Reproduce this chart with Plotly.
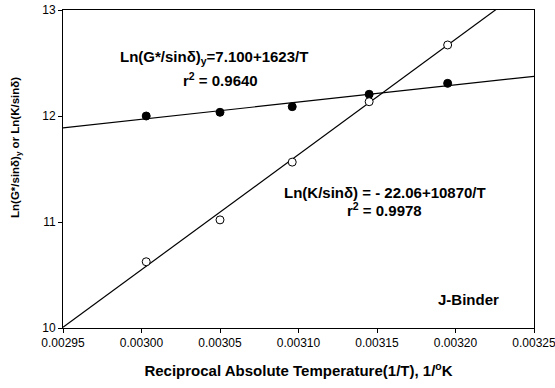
import plotly.graph_objects as go
import numpy as np

# Data
inv_T = [0.003003, 0.003050, 0.003096, 0.003145, 0.003195]
ln_G_sin = [12.00, 12.035, 12.088, 12.205, 12.308]
ln_K_sin = [10.625, 11.02, 11.565, 12.135, 12.67]

# Regression coefficients (intercept, slope) as printed on the chart
G_fit = (7.100, 1623.0)
K_fit = (-22.06, 10870.0)

x_range = [0.00295, 0.00325]
x_ticks = [0.00295, 0.00300, 0.00305, 0.00310, 0.00315, 0.00320, 0.00325]
y_ticks = [10, 11, 12, 13]

xl = np.array(x_range)
FONT = "Liberation Sans, Arial, sans-serif"

fig = go.Figure()
fig.add_trace(go.Scatter(x=xl, y=G_fit[0] + G_fit[1] * xl, mode="lines",
                         line=dict(color="black", width=1.2), showlegend=False, hoverinfo="skip"))
fig.add_trace(go.Scatter(x=xl, y=K_fit[0] + K_fit[1] * xl, mode="lines",
                         line=dict(color="black", width=1.2), showlegend=False, hoverinfo="skip"))
fig.add_trace(go.Scatter(x=inv_T, y=ln_G_sin, mode="markers",
                         marker=dict(color="black", size=8, line=dict(color="black", width=1)),
                         showlegend=False, cliponaxis=False))
fig.add_trace(go.Scatter(x=inv_T, y=ln_K_sin, mode="markers",
                         marker=dict(color="white", size=8, line=dict(color="black", width=1)),
                         showlegend=False, cliponaxis=False))

L, R, T, B = 63, 534, 10, 328

def ann(px, py, text, size=15, angle=0):
    fx = (px - L) / (R - L)
    fy = (B - py) / (B - T)
    fig.add_annotation(x=fx, y=fy, xref="paper", yref="paper", text=text, showarrow=False,
                       font=dict(family=FONT, size=size, color="black"),
                       xanchor="center", yanchor="middle", textangle=angle)

ann(214, 58, "<b>Ln(G*/sinδ)<sub>y</sub>=7.100+1623/T</b>")
ann(220, 80, "<b>r<sup>2</sup> = 0.9640</b>")
ann(385, 192, "<b>Ln(K/sinδ) = - 22.06+10870/T</b>")
ann(384, 209, "<b>r<sup>2</sup> = 0.9978</b>")
ann(468, 299, "<b>J-Binder</b>")
# y-axis title (placed as rotated text to match the reference position)
ann(16, 148, "<b>Ln(G*/sinδ)<sub>y</sub> or Ln(K/sinδ)</b>", size=11.5, angle=-90)

fig.update_layout(
    width=555, height=388,
    margin=dict(l=L, r=555 - R, t=T, b=388 - B),
    paper_bgcolor="white", plot_bgcolor="white",
    font=dict(family=FONT, size=12, color="black"),
)
fig.update_xaxes(range=x_range, tickvals=x_ticks, ticktext=[f"{v:.5f}" for v in x_ticks],
                 showgrid=False, zeroline=False, showline=True, linecolor="black", linewidth=1,
                 mirror=True, ticks="outside", ticklen=4, tickcolor="black",
                 tickfont=dict(size=12), automargin=False, ticklabeloverflow="allow",
                 title=dict(text="<b>Reciprocal Absolute Temperature(1/T), 1/<sup>o</sup>K</b>",
                            font=dict(size=15), standoff=16))
fig.update_yaxes(range=[10, 13], tickvals=y_ticks, showgrid=False, zeroline=False,
                 showline=True, linecolor="black", linewidth=1, mirror=True,
                 ticks="outside", ticklen=4, tickcolor="black", tickfont=dict(size=12),
                 automargin=False)

fig.write_html("out.html")
